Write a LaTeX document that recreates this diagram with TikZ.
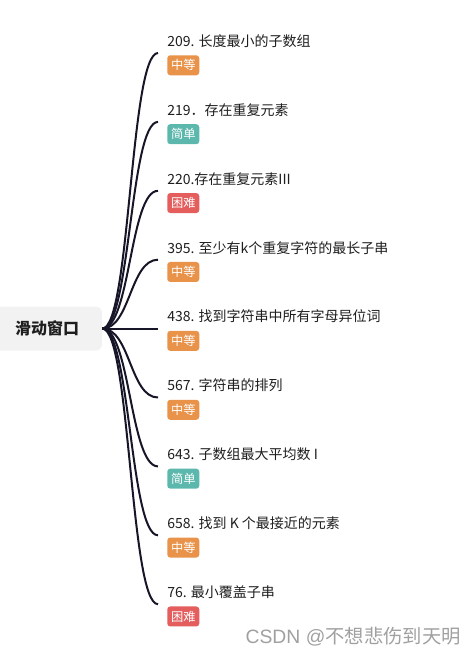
\documentclass[tikz,border=0pt]{standalone}
\usepackage{fontspec}
\setmainfont{Noto Sans CJK SC}
\newfontfamily\wmlatin{Liberation Sans}
\definecolor{linec}{RGB}{22,22,40}
\definecolor{titlec}{RGB}{30,30,30}
\definecolor{midc}{RGB}{232,146,74}
\definecolor{easyc}{RGB}{92,183,172}
\definecolor{hardc}{RGB}{228,94,94}
\definecolor{rootfill}{RGB}{242,242,242}
\definecolor{wmc}{RGB}{160,160,160}
\begin{document}
\begin{tikzpicture}[x=0.75pt,y=-0.75pt,
  rootbox/.style={fill=rootfill, rounded corners=4.5pt, minimum width=82.5pt, minimum height=33pt, inner sep=0pt, font=\fontsize{12}{14}\selectfont\bfseries, text=titlec},
  branch/.style={draw=linec, line width=1.5pt},
  title/.style={anchor=west, inner sep=0pt, font=\fontsize{10.5}{12}\selectfont, text=titlec},
  badge/.style={anchor=north west, rounded corners=2.25pt, minimum width=24pt, minimum height=15pt, inner sep=0pt, text=white, font=\fontsize{9.2}{10}\selectfont},
  mid/.style={badge, fill=midc},
  easy/.style={badge, fill=easyc},
  hard/.style={badge, fill=hardc},
  wm/.style={anchor=east, inner sep=0pt, text=wmc, font=\fontsize{14.5}{16}\selectfont}
]
\useasboundingbox (0,0) rectangle (472,656);
\node[rootbox] (root) at (47,328.6) {滑动窗口};

\foreach \i/\y in {1/53,2/121.9,3/190.8,4/259.7,5/328.6,6/397.5,7/466.4,8/535.3,9/604.2}{
  \coordinate (e\i) at (158,\y);
  \draw[branch] (root.east) .. controls +(28,0) and +(-28,0) .. (e\i);
}

\node[title] (t1) at (167,41) {209. 长度最小的子数组};
\node[mid] (b1) at (167,55) {中等};
\node[title] (t2) at (167,109.9) {219．存在重复元素};
\node[easy] (b2) at (167,123.9) {简单};
\node[title] (t3) at (167,178.8) {220.存在重复元素III};
\node[hard] (b3) at (167,192.8) {困难};
\node[title] (t4) at (167,247.7) {395. 至少有k个重复字符的最长子串};
\node[mid] (b4) at (167,261.7) {中等};
\node[title] (t5) at (167,316.6) {438. 找到字符串中所有字母异位词};
\node[mid] (b5) at (167,330.6) {中等};
\node[title] (t6) at (167,385.5) {567. 字符串的排列};
\node[mid] (b6) at (167,399.5) {中等};
\node[title] (t7) at (167,454.4) {643. 子数组最大平均数 I};
\node[easy] (b7) at (167,468.4) {简单};
\node[title] (t8) at (167,523.3) {658. 找到 K 个最接近的元素};
\node[mid] (b8) at (167,537.3) {中等};
\node[title] (t9) at (167,592.2) {76. 最小覆盖子串};
\node[hard] (b9) at (167,606.2) {困难};

\node[wm] (wm) at (461,637) {{\wmlatin CSDN @}不想悲伤到天明};
\end{tikzpicture}
\end{document}
